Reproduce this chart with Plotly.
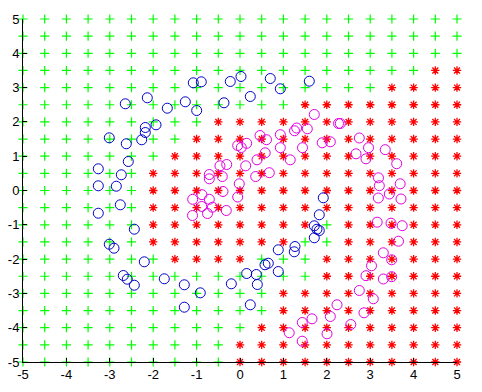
import plotly.graph_objects as go

# grid coordinates and classification (g = green '+', r = red '*'); rows from y=5 down to y=-5
grid_x = [-5, -4.5, -4, -3.5, -3, -2.5, -2, -1.5, -1, -0.5, 0, 0.5, 1, 1.5, 2, 2.5, 3, 3.5, 4, 4.5, 5]
grid_y = [5, 4.5, 4, 3.5, 3, 2.5, 2, 1.5, 1, 0.5, 0, -0.5, -1, -1.5, -2, -2.5, -3, -3.5, -4, -4.5, -5]
grid_class = [
    "ggggggggggggggggggggg",
    "ggggggggggggggggggggg",
    "ggggggggggggggggggggg",
    "gggggggggggggggggggrr",
    "gggggggggggggggggrrrr",
    "gggggggggggggrrrrrrrr",
    "gggggggggrrrrrrrrrrrr",
    "ggggggggrrrrrrrrrrrrr",
    "gggggggrrrrrrrrrrrrrr",
    "ggggggrrrrrrrrrrrrrrr",
    "ggggggrrrrrrrrrrrrrrr",
    "ggggggrrrrrrrrrrrrrrr",
    "ggggggrrrrrrrrgrrrrrr",
    "ggggggrrrrrrrggrrrrrr",
    "gggggggrrrrgggrrrrrrr",
    "ggggggggggggggrrrrrrr",
    "ggggggggggggrrrrrrrrr",
    "ggggggggggggrrrrrrrrr",
    "gggggggggggrrrrrrrrrr",
    "ggggggggggrrrrrrrrrrr",
    "ggggggggggrrrrrrrrrrr",
]

blue_x = [-2.136, -2.643, -1.675, -1.935, -2.182, -2.182, -2.265, -3.012, -2.620, -2.574,
          -3.265, -2.735, -3.265, -2.850, -2.758, -3.265, -2.435, -3.012, -2.903, -2.205,
          -2.689, -2.597, -2.435, -1.744, -1.283, -0.915, -1.283, -0.200, 0.154, 0.376,
          0.399, 0.237, 0.652, 0.576, 0.882, 0.882, 1.267, 1.251, 1.712, 1.712,
          1.774, 1.827, 1.827, 1.919, -1.076, -0.892, -0.224, 0.023, 0.237, -1.260,
          -0.998, -0.369, 0.698, 0.929, 1.597]
blue_y = [2.703, 2.528, 2.399, 1.915, 1.837, 1.691, 1.478, 1.536, 1.362, 0.845,
          0.633, 0.458, 0.137, 0.125, -0.417, -0.662, -1.128, -1.566, -1.682, -2.079,
          -2.478, -2.586, -2.761, -2.574, -2.749, -2.983, -3.402, -2.720, -2.420, -2.449,
          -2.741, -3.332, -2.120, -2.166, -2.362, -1.729, -1.633, -1.787, -1.379, -1.029,
          -1.128, -1.166, -0.708, -0.213, 3.140, 3.169, 3.178, 3.324, 2.741, 2.586,
          2.332, 2.557, 3.265, 2.965, 3.187]

mag_x = [1.712, 1.306, 1.256, 1.551, 2.270, 2.311, 0.461, 0.611, 0.929, 0.929,
         1.440, 1.894, 2.081, 0.581, 0.392, 1.157, 0.675, 0.362, 2.749, 2.961,
         2.673, 2.903, 3.346, 3.611, 3.191, 3.210, 3.691, 3.440, 3.187, 3.710,
         3.161, 3.479, 3.737, 3.652, 3.302, 3.495, 3.030, 2.903, 3.302, 3.495,
         2.749, 3.071, 2.235, 2.857, 2.081, 1.659, 1.435, 2.553, 1.134, 2.005,
         1.433, -0.053, 0.030, 0.154, -0.306, -0.461, 0.131, -0.707, -0.707, -0.408,
         -0.016, -0.392, -0.876, -1.090, -0.707, -0.053, -0.882, -0.634, -0.749, -1.094,
         -0.316]
mag_y = [2.216, 1.822, 1.741, 1.799, 1.953, 1.953, 1.603, 1.481, 1.627, 1.248,
         1.248, 1.391, 1.420, 1.099, 0.895, 0.895, 0.519, 0.408, 1.531, 1.248,
         1.070, 0.924, 1.190, 0.781, 0.370, 0.140, 0.195, -0.102, -0.219, -0.248,
         -0.924, -0.953, -1.026, -1.478, -1.816, -2.020, -2.195, -2.484, -2.580, -2.513,
         -2.915, -3.157, -3.332, -3.566, -3.673, -3.741, -3.848, -3.907, -4.146, -4.178,
         -4.394, 1.312, 1.254, 1.376, 0.758, 0.720, 0.720, 0.466, 0.341, 0.408,
         0.195, -0.029, -0.122, -0.257, -0.257, -0.190, -0.466, -0.487, -0.671, -0.729,
         -0.583]

tick_vals = [-5, -4, -3, -2, -1, 0, 1, 2, 3, 4, 5]
tick_text = ["-5", "-4", "-3", "-2", "-1", "0", "1", "2", "3", "4", "5"]

gx, gy, rx, ry = [], [], [], []
for yv, row in zip(grid_y, grid_class):
    for xv, c in zip(grid_x, row):
        if c == "g":
            gx.append(xv); gy.append(yv)
        else:
            rx.append(xv); ry.append(yv)

fig = go.Figure()
fig.add_trace(go.Scatter(x=gx, y=gy, mode="markers", cliponaxis=False,
                         marker=dict(symbol="cross-thin-open", size=6.5, color="#00ff00",
                                     line=dict(color="#00ff00", width=1.2))))
fig.add_trace(go.Scatter(x=rx, y=ry, mode="markers", cliponaxis=False,
                         marker=dict(symbol="asterisk-open", size=7, color="#ff0000",
                                     line=dict(color="#ff0000", width=1.3))))
fig.add_trace(go.Scatter(x=blue_x, y=blue_y, mode="markers", cliponaxis=False,
                         marker=dict(symbol="circle-open", size=10, color="#0000c8",
                                     line=dict(color="#0000c8", width=1))))
fig.add_trace(go.Scatter(x=mag_x, y=mag_y, mode="markers", cliponaxis=False,
                         marker=dict(symbol="circle-open", size=10, color="#e000e0",
                                     line=dict(color="#e000e0", width=1))))

axis_common = dict(range=[-5, 5], tickvals=tick_vals, ticktext=tick_text,
                   showgrid=False, zeroline=False, showline=True, linecolor="black",
                   linewidth=1, ticks="inside", ticklen=4, tickcolor="black",
                   tickfont=dict(family="Liberation Sans, Arial, sans-serif", size=13, color="black"),
                   mirror=False, automargin=False)
fig.update_layout(width=482, height=392, margin=dict(l=23, r=25, t=19, b=30),
                  paper_bgcolor="white", plot_bgcolor="white", showlegend=False,
                  hovermode=False,
                  xaxis=axis_common, yaxis=axis_common)
fig.write_html("out.html", config={"displayModeBar": False},
               post_script="document.body.style.margin='0';document.body.style.overflow='hidden';")
